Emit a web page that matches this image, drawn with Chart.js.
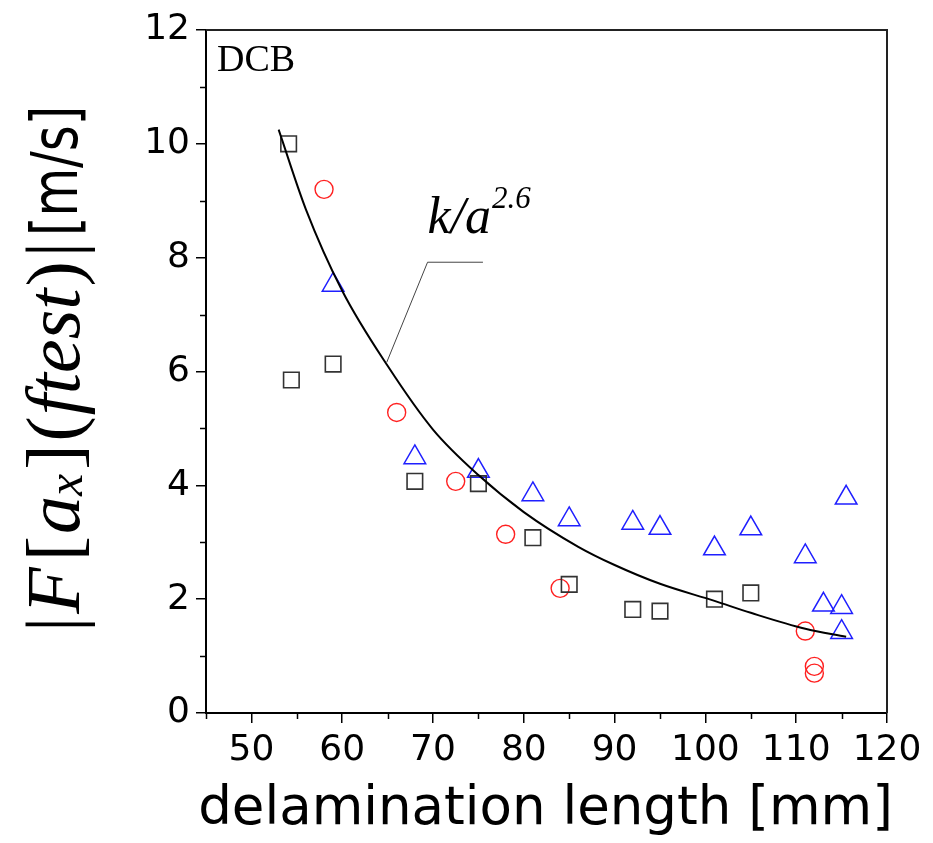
<!DOCTYPE html>
<html>
<head>
<meta charset="utf-8">
<script src="https://cdn.jsdelivr.net/npm/chart.js@4.4.1/dist/chart.umd.min.js"></script>
<style>
  html, body { margin: 0; padding: 0; background: #fff; }
  #wrap { width: 933px; height: 843px; position: relative; }
</style>
</head>
<body>
<div id="wrap"><canvas id="c" width="933" height="843"></canvas></div>
<script>
// ---- data ----
const squareX = [54.1, 54.4, 59, 68, 75, 81, 85, 92, 95, 101, 105];
const squareY = [10.0, 5.85, 6.13, 4.07, 4.03, 3.08, 2.26, 1.82, 1.79, 2.0, 2.11];

const circleX = [58, 66, 72.5, 78, 84, 111, 112, 112];
const circleY = [9.2, 5.28, 4.07, 3.14, 2.19, 1.44, 0.82, 0.70];

const triX = [59, 68, 75, 81, 85, 92, 95, 101, 105, 111, 115.5, 113, 115, 115];
const triY = [7.52, 4.49, 4.25, 3.84, 3.40, 3.34, 3.25, 2.89, 3.24, 2.75, 3.78, 1.90, 1.86, 1.42];

const fitX = [53, 56, 60, 65, 70, 75, 80, 86, 90, 95, 101, 105, 111, 115.5];
const fitY = [10.25, 8.85, 7.42, 6.1, 4.98, 4.18, 3.53, 2.92, 2.6, 2.27, 1.97, 1.76, 1.48, 1.34];

const xTickMajor = [50, 60, 70, 80, 90, 100, 110, 120];
const xTickMinor = [45, 55, 65, 75, 85, 95, 105, 115];
const yTickMajor = [0, 2, 4, 6, 8, 10, 12];
const yTickMinor = [1, 3, 5, 7, 9, 11];

const fitLabelMain = 'k/a';
const fitLabelExp = '2.6';
const fitLabelAnchor = [69.4, 8.43];
const leaderX = [64.9, 69.4, 75.5];
const leaderY = [6.16, 7.92, 7.92];
const panelLabel = 'DCB';
const xTitle = 'delamination length [mm]';
const yTitleParts = ['|', 'F', '[', 'a', 'x', ']', '(', 'ftest', ')', '|', '[m/s]'];

const toPts = (xs, ys) => xs.map((x, i) => ({ x: x, y: ys[i] }));

// ---- plugins ----
const decor = {
  id: 'decor',
  afterDraw(chart) {
    const ctx = chart.ctx;
    const xs = chart.scales.x, ys = chart.scales.y;
    const a = chart.chartArea;
    ctx.save();
    // frame top / right
    ctx.strokeStyle = '#222';
    ctx.lineWidth = 2;
    ctx.beginPath();
    ctx.moveTo(a.left, a.top);
    ctx.lineTo(a.right, a.top);
    ctx.lineTo(a.right, a.bottom);
    ctx.stroke();
    // minor ticks
    ctx.strokeStyle = '#000';
    ctx.lineWidth = 1.5;
    ctx.beginPath();
    xTickMinor.forEach(v => {
      const p = Math.round(xs.getPixelForValue(v)) + 0.5;
      ctx.moveTo(p, a.bottom);
      ctx.lineTo(p, a.bottom + 6);
    });
    yTickMinor.forEach(v => {
      const p = Math.round(ys.getPixelForValue(v)) + 0.5;
      ctx.moveTo(a.left - 6, p);
      ctx.lineTo(a.left, p);
    });
    ctx.stroke();
    // leader line
    ctx.strokeStyle = '#444';
    ctx.lineWidth = 1;
    ctx.beginPath();
    leaderX.forEach((v, i) => {
      const px = xs.getPixelForValue(v), py = ys.getPixelForValue(leaderY[i]);
      if (i === 0) ctx.moveTo(px, py); else ctx.lineTo(px, py);
    });
    ctx.stroke();
    // fit label
    ctx.fillStyle = '#000';
    ctx.textBaseline = 'alphabetic';
    ctx.textAlign = 'left';
    const lx = xs.getPixelForValue(fitLabelAnchor[0]);
    const ly = ys.getPixelForValue(fitLabelAnchor[1]);
    ctx.font = 'italic 52px "Liberation Serif"';
    ctx.fillText(fitLabelMain, lx, ly);
    const w = ctx.measureText(fitLabelMain).width;
    ctx.font = 'italic 31px "Liberation Serif"';
    ctx.fillText(fitLabelExp, lx + w + 1, ly - 25);
    // panel label
    ctx.font = '38px "Liberation Serif"';
    ctx.fillText(panelLabel, a.left + 11, a.top + 41);
    // x axis title (drawn without width limit)
    ctx.font = '53px "DejaVu Sans"';
    ctx.textAlign = 'center';
    ctx.fillText(xTitle, (a.left + a.right) / 2 - 1, a.bottom + 111);
    ctx.restore();

    // y axis title (rich text, rotated)
    const styles = [
      { f: '', s: 1, dy: 0, g: 3 },
      { f: 'italic ', s: 1, dy: 0, g: 6 },
      { f: '', s: 1, dy: 0, g: 2 },
      { f: 'italic ', s: 1, dy: 0, g: 0 },
      { f: 'italic ', s: 0.66, dy: 3, g: 4 },
      { f: '', s: 1, dy: 0, g: 3 },
      { f: '', s: 1, dy: 0, g: 1 },
      { f: 'italic ', s: 1, dy: 0, g: 2 },
      { f: '', s: 1, dy: 0, g: 4 },
      { f: '', s: 1, dy: 0, g: 6 },
      { f: '', s: 1, dy: 0, g: 0, sans: true }
    ];
    const serifSize = 76;
    const sansSize = 64;
    const sansSquash = 0.78;
    ctx.save();
    ctx.fillStyle = '#000';
    ctx.textBaseline = 'alphabetic';
    ctx.textAlign = 'left';
    ctx.translate(79, 632);
    ctx.rotate(-Math.PI / 2);
    let cx = 0;
    yTitleParts.forEach((t, i) => {
      const st = styles[i];
      if (st.sans) {
        ctx.font = sansSize + 'px "DejaVu Sans"';
        ctx.save();
        ctx.translate(cx, 0);
        ctx.scale(sansSquash, 1);
        ctx.fillText(t, 0, -2);
        ctx.restore();
        cx += ctx.measureText(t).width * sansSquash + st.g;
      } else {
        ctx.font = st.f + Math.round(serifSize * st.s) + 'px "Liberation Serif"';
        ctx.fillText(t, cx, st.dy);
        cx += ctx.measureText(t).width + st.g;
      }
    });
    ctx.restore();
  }
};

const tickFont = { family: 'DejaVu Sans', size: 36 };

new Chart(document.getElementById('c'), {
  type: 'scatter',
  data: {
    datasets: [
      {
        label: 'fit',
        type: 'line',
        data: toPts(fitX, fitY),
        borderColor: '#000',
        borderWidth: 2,
        pointRadius: 0,
        fill: false,
        cubicInterpolationMode: 'monotone',
        order: 0
      },
      {
        label: 'squares',
        data: toPts(squareX, squareY),
        pointStyle: 'rect',
        pointRadius: 11,
        borderColor: '#333',
        backgroundColor: 'rgba(0,0,0,0)',
        borderWidth: 1.6,
        order: 1
      },
      {
        label: 'circles',
        data: toPts(circleX, circleY),
        pointStyle: 'circle',
        pointRadius: 9,
        borderColor: '#ff2020',
        backgroundColor: 'rgba(0,0,0,0)',
        borderWidth: 1.4,
        order: 1
      },
      {
        label: 'triangles',
        data: toPts(triX, triY),
        pointStyle: 'triangle',
        pointRadius: 12.5,
        borderColor: '#1f1fff',
        backgroundColor: 'rgba(0,0,0,0)',
        borderWidth: 1.5,
        order: 1
      }
    ]
  },
  options: {
    responsive: false,
    animation: false,
    layout: { padding: { left: 0, top: 30, right: 46, bottom: 0 } },
    plugins: { legend: { display: false }, tooltip: { enabled: false } },
    scales: {
      x: {
        type: 'linear',
        min: 45, max: 120,
        afterBuildTicks: s => { s.ticks = xTickMajor.map(v => ({ value: v })); },
        afterFit: s => { s.height = 130; },
        ticks: { font: tickFont, color: '#000', padding: 6, maxRotation: 0, autoSkip: false },
        grid: { drawOnChartArea: false, drawTicks: true, tickLength: 10, color: '#000', lineWidth: 1.5 },
        border: { display: true, color: '#000', width: 2 },
        title: { display: false }
      },
      y: {
        type: 'linear',
        min: 0, max: 12,
        afterBuildTicks: s => { s.ticks = yTickMajor.map(v => ({ value: v })); },
        afterFit: s => { s.width = 206; },
        ticks: { font: tickFont, color: '#000', padding: 6 },
        grid: { drawOnChartArea: false, drawTicks: true, tickLength: 10, color: '#000', lineWidth: 1.5 },
        border: { display: true, color: '#000', width: 2 },
        title: { display: false }
      }
    }
  },
  plugins: [decor]
});
</script>
</body>
</html>
